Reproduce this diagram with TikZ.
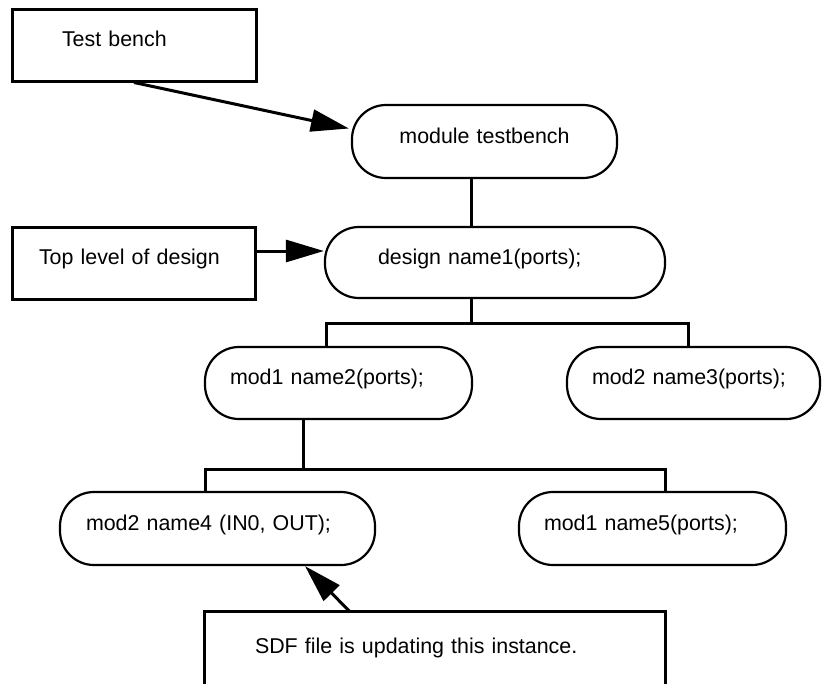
\documentclass[tikz,border=0pt]{standalone}
\usepackage{fontspec}
\setmainfont{Liberation Sans}
\usetikzlibrary{arrows.meta,calc}
\begin{document}
\begin{tikzpicture}[x=1pt,y=-1pt,
  every node/.style={font=\fontsize{21.4}{25}\selectfont, text height=16pt, text depth=13pt, inner ysep=0pt, align=left},
  rbox/.style={draw, line width=3pt, rectangle},
  pill/.style={draw, line width=2.2pt, rounded corners=34pt},
  conn/.style={line width=3pt},
  arr/.style={line width=3pt, -{Triangle[length=38pt,width=22pt]}}]
\useasboundingbox (0,0) rectangle (822,683);

\node[rbox, minimum width=244pt, minimum height=72pt, inner xsep=50pt, text width=144pt] (tb) at (134,45) {Test bench};
\node[rbox, minimum width=243pt, minimum height=72pt, inner xsep=27pt, text width=189pt] (top) at (133.5,263) {Top level of design};
\node[pill, minimum width=265pt, minimum height=73pt, inner xsep=10pt, text width=245pt, align=center] (mtb) at (484.5,141.5) {module testbench};
\node[pill, minimum width=340pt, minimum height=71pt, inner xsep=53pt, text width=234pt] (d1) at (495,262.5) {design name1(ports);};
\node[pill, minimum width=267pt, minimum height=72pt, inner xsep=25pt, text width=217pt] (m1) at (338.5,383) {mod1 name2(ports);};
\node[pill, minimum width=253pt, minimum height=72pt, inner xsep=25pt, text width=203pt] (m2) at (693.5,383) {mod2 name3(ports);};
\node[pill, minimum width=315pt, minimum height=73pt, inner xsep=26pt, text width=263pt] (m4) at (217.5,528.5) {mod2 name4 (IN0, OUT);};
\node[pill, minimum width=267pt, minimum height=73pt, inner xsep=25pt, text width=217pt] (m5) at (652.5,528.5) {mod1 name5(ports);};
\node[minimum width=460pt, minimum height=80pt, inner xsep=50pt, text width=360pt] (sdf) at (435,652) {SDF file is updating this instance.};
\draw[conn] (sdf.south west) -- (sdf.north west) -- (sdf.north east) -- (sdf.south east);

\coordinate (v1) at (471,0);
\coordinate (bl) at (326,323);
\coordinate (br) at (688,323);
\coordinate (v2) at (303,469);
\coordinate (cl) at (205,469);
\coordinate (cr) at (665,469);
\coordinate (a1) at (350,0);
\coordinate (a2) at (305,0);

\draw[arr] (tb.south) -- ($(mtb.west)+(-2,-13)$);
\draw[arr] ($(top.east)+(0,-12)$) -- ($(d1.west)+(0,-11.5)$);
\draw[conn] (mtb.south -| v1) -- (d1.north -| v1);
\draw[conn] (d1.south -| v1) -- (v1 |- bl);
\draw[conn] (m1.north -| bl) |- (br) -- (m2.north -| br);
\draw[conn] (m1.south -| v2) -- (v2);
\draw[conn] (m4.north -| cl) |- (cr) -- (m5.north -| cr);
\draw[arr] (sdf.north -| a1) -- (m4.south -| a2);
\end{tikzpicture}
\end{document}
